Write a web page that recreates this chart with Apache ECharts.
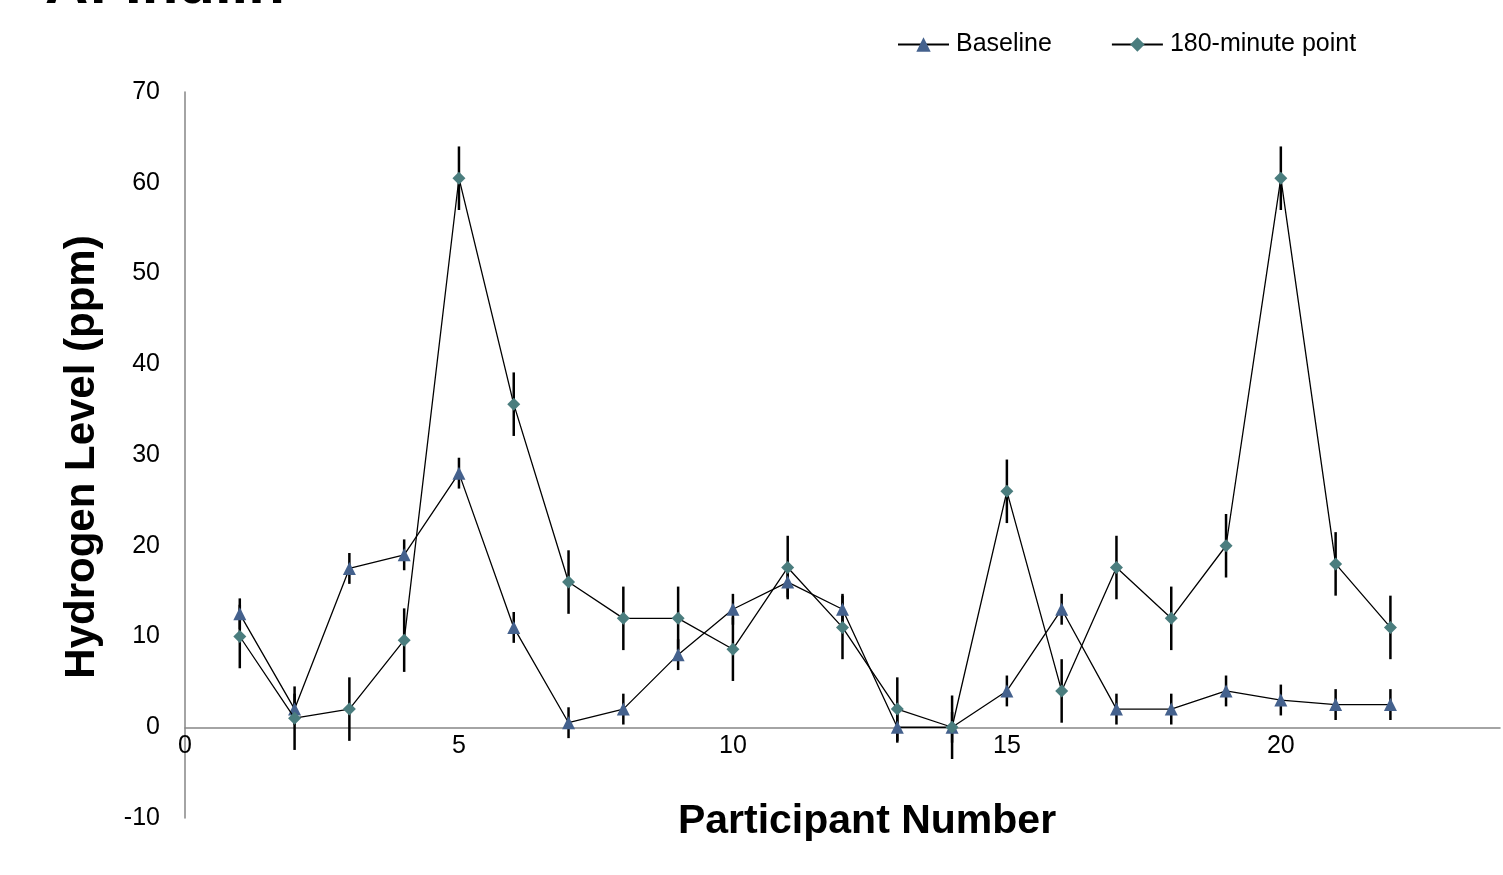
<!DOCTYPE html>
<html>
<head>
<meta charset="utf-8">
<script src="https://cdn.jsdelivr.net/npm/echarts@6/dist/echarts.min.js"></script>
<style>
html,body{margin:0;padding:0;background:#fff;}
#chart{width:1503px;height:875px;}
</style>
</head>
<body>
<div id="chart"></div>
<script>
const participants = [1,2,3,4,5,6,7,8,9,10,11,12,13,14,15,16,17,18,19,20,21,22];
const baseline = [12.5,2,17.5,19,28,11,0.5,2,8,13,16,13,0,0,4,13,2,2,4,3,2.5,2.5];
const baselineErr = [1.7,1.7,1.7,1.7,1.7,1.7,1.7,1.7,1.7,1.7,1.7,1.7,1.7,1.7,1.7,1.7,1.7,1.7,1.7,1.7,1.7,1.7];
const min180 = [10,1,2,9.6,60.5,35.6,16,12,12,8.6,17.6,11,2,0,26,4,17.6,12,20,60.5,18,11];
const min180Err = [3.5,3.5,3.5,3.5,3.5,3.5,3.5,3.5,3.5,3.5,3.5,3.5,3.5,3.5,3.5,3.5,3.5,3.5,3.5,3.5,3.5,3.5];
const seriesNames = ['Baseline','180-minute point'];
const xTickLabels = ['0','5','10','15','20'];

const chart = echarts.init(document.getElementById('chart'));
const font = 'Liberation Sans, Arial, sans-serif';
function errData(vals, errs){
  return participants.map((p,i)=>[p, vals[i]-errs[i], vals[i]+errs[i]]);
}
function renderErr(params, api){
  const x = api.value(0), lo = api.value(1), hi = api.value(2);
  const p1 = api.coord([x, lo]), p2 = api.coord([x, hi]);
  return {type:'line', shape:{x1:p1[0],y1:p1[1],x2:p2[0],y2:p2[1]},
    style:{stroke:'#000', lineWidth:2.5}};
}
chart.setOption({
  animation:false,
  backgroundColor:'#fff',
  textStyle:{fontFamily:font},
  grid:{left:185, right:3, top:92, bottom:57, containLabel:false},
  legend:{
    data:seriesNames, left:892, top:27, itemWidth:51, itemHeight:18, itemGap:59,
    textStyle:{fontFamily:font, fontSize:25, color:'#000', padding:[0,0,0,2]}
  },
  graphic:[
    {type:'text', x:45, y:16, z:10, style:{text:'A: Inulin', font:'bold 60px '+font, fill:'#000', textVerticalAlign:'bottom'}},
    {type:'text', x:867, y:822, style:{text:'Participant Number', font:'bold 41px '+font, fill:'#000', textAlign:'center', textVerticalAlign:'middle'}},
    {type:'text', x:82, y:457, rotation:Math.PI/2, style:{text:'Hydrogen Level (ppm)', font:'bold 42px '+font, fill:'#000', textAlign:'center', textVerticalAlign:'middle'}}
  ],
  xAxis:{
    type:'value', min:0, max:24, interval:5,
    axisLine:{onZero:true, lineStyle:{color:'#868686', width:1.5}},
    axisTick:{show:false}, splitLine:{show:false},
    axisLabel:{fontFamily:font, fontSize:25, color:'#000', margin:-84,
      formatter:v=> xTickLabels.indexOf(String(v))>=0 ? String(v) : ''}
  },
  yAxis:{
    type:'value', min:-10, max:70, interval:10,
    axisLine:{show:true, onZero:false, lineStyle:{color:'#868686', width:1.5}},
    axisTick:{show:false}, splitLine:{show:false},
    axisLabel:{fontFamily:font, fontSize:25, color:'#000', margin:25}
  },
  series:[
    {type:'custom', name:'err1', renderItem:renderErr, data:errData(baseline, baselineErr), z:2, silent:true},
    {type:'custom', name:'err2', renderItem:renderErr, data:errData(min180, min180Err), z:2, silent:true},
    {type:'line', name:seriesNames[0], data:participants.map((p,i)=>[p, baseline[i]]),
      symbol:'triangle', symbolSize:13, showAllSymbol:true,
      lineStyle:{color:'#000', width:1.3}, itemStyle:{color:'#44618D'}, z:3},
    {type:'line', name:seriesNames[1], data:participants.map((p,i)=>[p, min180[i]]),
      symbol:'diamond', symbolSize:13, showAllSymbol:true,
      lineStyle:{color:'#000', width:1.3}, itemStyle:{color:'#4A7D7E'}, z:4}
  ]
});
</script>
</body>
</html>
